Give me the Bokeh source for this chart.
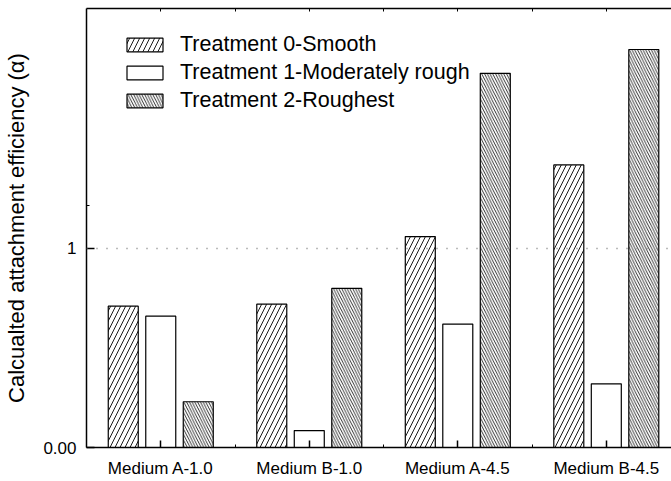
from bokeh.plotting import figure
from bokeh.models import Range1d, FixedTicker, LinearAxis, Span, Legend, LegendItem
from bokeh.embed import file_html
from bokeh.resources import INLINE

categories = ["Medium A-1.0", "Medium B-1.0", "Medium A-4.5", "Medium B-4.5"]
treatment0 = [0.71, 0.72, 1.06, 1.42]
treatment1 = [0.66, 0.085, 0.62, 0.32]
treatment2 = [0.23, 0.80, 1.88, 2.00]
series_names = ["Treatment 0-Smooth", "Treatment 1-Moderately rough", "Treatment 2-Roughest"]
y_tick_values = [0, 1]
y_tick_labels = ["0.00", "1"]

FONT = "Liberation Sans"

p = figure(width=671, height=481, output_backend="svg", toolbar_location=None,
           x_range=Range1d(-0.5, 3.439), y_range=Range1d(0, 2.206),
           min_border_left=86, min_border_right=0, min_border_top=8, min_border_bottom=34)
p.xgrid.visible = False
p.ygrid.visible = False
p.outline_line_color = None
p.background_fill_color = "white"
p.border_fill_color = "white"

idx = list(range(len(categories)))
step = 0.2525
bw = 0.202

common = dict(width=bw, bottom=0, fill_color="white", line_color="black", line_width=1.2)
r0 = p.vbar(x=[i - step for i in idx], top=treatment0, hatch_pattern="/", hatch_scale=10,
            hatch_weight=0.9, hatch_color="black", **common)
r1 = p.vbar(x=[i for i in idx], top=treatment1, **common)
r2 = p.vbar(x=[i + step for i in idx], top=treatment2, hatch_pattern="\\", hatch_scale=5.5,
            hatch_weight=0.8, hatch_color="black", **common)

span = Span(location=1, dimension="width", line_color="#777777", line_dash="1 9", line_width=1.5)
p.add_layout(span)

# bottom axis
xa = p.xaxis[0]
xa.ticker = FixedTicker(ticks=idx, minor_ticks=[i + 0.5 for i in idx[:-1]])
xa.major_label_overrides = {float(i): c for i, c in zip(idx, categories)}
xa.major_tick_in = 7
xa.major_tick_out = 0
xa.minor_tick_in = 3
xa.minor_tick_out = 0
xa.axis_line_width = 1.5
xa.major_tick_line_width = 1.5
xa.major_label_standoff = 11
xa.major_label_text_font = FONT
xa.major_label_text_font_size = "17px"
xa.major_label_text_color = "black"

# left axis
ya = p.yaxis[0]
ya.ticker = FixedTicker(ticks=y_tick_values, minor_ticks=[1.215])
ya.major_label_overrides = {float(v): s for v, s in zip(y_tick_values, y_tick_labels)}
ya.major_tick_in = 8
ya.major_tick_out = 0
ya.minor_tick_in = 3
ya.minor_tick_out = 0
ya.axis_line_width = 1.5
ya.major_tick_line_width = 1.5
ya.major_label_standoff = 10
ya.major_label_text_font = FONT
ya.major_label_text_font_size = "17px"
ya.major_label_text_color = "black"
ya.axis_label = "Calcualted attachment efficiency (α)"
ya.axis_label_text_font = FONT
ya.axis_label_text_font_size = "22px"
ya.axis_label_text_font_style = "normal"
ya.axis_label_text_color = "black"
ya.axis_label_standoff = 11

# top border axis (ticks only)
top = LinearAxis(ticker=FixedTicker(ticks=[], minor_ticks=[0, 0.5, 1, 1.5, 2, 2.5, 3]))
top.axis_line_width = 1.5
top.minor_tick_in = 3
top.minor_tick_out = 0
top.major_tick_in = 0
top.major_tick_out = 0
top.major_label_standoff = 0
p.add_layout(top, "above")

legend = Legend(items=[LegendItem(label=series_names[0], renderers=[r0]),
                       LegendItem(label=series_names[1], renderers=[r1]),
                       LegendItem(label=series_names[2], renderers=[r2])],
                location=(36, 334), glyph_width=45, glyph_height=17, label_height=20,
                label_standoff=13, spacing=3, padding=0, margin=0,
                border_line_color=None, background_fill_alpha=0,
                label_text_font=FONT, label_text_font_size="21.5px", label_text_color="black")
p.add_layout(legend)

open("out.html", "w").write(file_html(p, INLINE))
